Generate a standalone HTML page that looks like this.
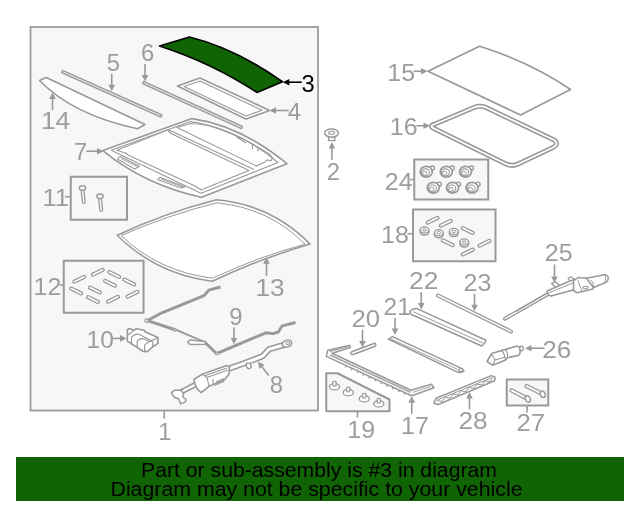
<!DOCTYPE html>
<html><head><meta charset="utf-8"><style>
html,body{margin:0;padding:0;background:#fff;width:640px;height:512px;overflow:hidden}
svg{display:block;font-family:"Liberation Sans",sans-serif;will-change:transform}
</style></head><body>
<svg width="640" height="512" viewBox="0 0 640 512">
<rect x="30.5" y="27" width="287.5" height="383.5" fill="#f7f7f7" stroke="#9c9c9c" stroke-width="1.8"/>
<rect x="16" y="457" width="608" height="44" fill="#116404"/>
<text x="141" y="477" font-size="19.3" textLength="356" lengthAdjust="spacingAndGlyphs" fill="#000">Part or sub-assembly is #3 in diagram</text>
<text x="110.5" y="496.25" font-size="19.3" textLength="412" lengthAdjust="spacingAndGlyphs" fill="#000">Diagram may not be specific to your vehicle</text>
<text x="164.75" y="440.00" text-anchor="middle" font-size="23.8" fill="#9d9d9d">1</text>
<text x="333.45" y="179.50" text-anchor="middle" font-size="23.8" fill="#9d9d9d">2</text>
<text x="294.38" y="120.00" text-anchor="middle" font-size="23.8" fill="#9d9d9d">4</text>
<text x="113.25" y="71.00" text-anchor="middle" font-size="23.8" fill="#9d9d9d">5</text>
<text x="147.50" y="61.00" text-anchor="middle" font-size="23.8" fill="#9d9d9d">6</text>
<text x="80.62" y="160.00" text-anchor="middle" font-size="23.8" fill="#9d9d9d">7</text>
<text x="276.25" y="392.50" text-anchor="middle" font-size="23.8" fill="#9d9d9d">8</text>
<text x="235.90" y="324.80" text-anchor="middle" font-size="23.8" fill="#9d9d9d">9</text>
<text x="100.25" y="347.50" text-anchor="middle" font-size="23.8" textLength="27.24" lengthAdjust="spacingAndGlyphs" fill="#9d9d9d">10</text>
<text x="55.62" y="206.25" text-anchor="middle" font-size="23.8" textLength="26.41" lengthAdjust="spacingAndGlyphs" fill="#9d9d9d">11</text>
<text x="47.50" y="295.00" text-anchor="middle" font-size="23.8" textLength="27.80" lengthAdjust="spacingAndGlyphs" fill="#9d9d9d">12</text>
<text x="270.10" y="295.60" text-anchor="middle" font-size="23.8" textLength="29.13" lengthAdjust="spacingAndGlyphs" fill="#9d9d9d">13</text>
<text x="55.62" y="128.75" text-anchor="middle" font-size="23.8" textLength="29.19" lengthAdjust="spacingAndGlyphs" fill="#9d9d9d">14</text>
<text x="401.25" y="80.50" text-anchor="middle" font-size="23.8" textLength="27.80" lengthAdjust="spacingAndGlyphs" fill="#9d9d9d">15</text>
<text x="403.75" y="135.00" text-anchor="middle" font-size="23.8" textLength="27.80" lengthAdjust="spacingAndGlyphs" fill="#9d9d9d">16</text>
<text x="415.00" y="433.75" text-anchor="middle" font-size="23.8" textLength="27.80" lengthAdjust="spacingAndGlyphs" fill="#9d9d9d">17</text>
<text x="395.00" y="242.50" text-anchor="middle" font-size="23.8" textLength="27.80" lengthAdjust="spacingAndGlyphs" fill="#9d9d9d">18</text>
<text x="361.25" y="438.00" text-anchor="middle" font-size="23.8" textLength="27.80" lengthAdjust="spacingAndGlyphs" fill="#9d9d9d">19</text>
<text x="365.88" y="327.00" text-anchor="middle" font-size="23.8" textLength="28.63" lengthAdjust="spacingAndGlyphs" fill="#9d9d9d">20</text>
<text x="397.25" y="315.00" text-anchor="middle" font-size="23.8" textLength="27.24" lengthAdjust="spacingAndGlyphs" fill="#9d9d9d">21</text>
<text x="423.75" y="288.75" text-anchor="middle" font-size="23.8" textLength="29.46" lengthAdjust="spacingAndGlyphs" fill="#9d9d9d">22</text>
<text x="477.50" y="291.25" text-anchor="middle" font-size="23.8" textLength="27.80" lengthAdjust="spacingAndGlyphs" fill="#9d9d9d">23</text>
<text x="398.75" y="190.00" text-anchor="middle" font-size="23.8" textLength="27.80" lengthAdjust="spacingAndGlyphs" fill="#9d9d9d">24</text>
<text x="558.75" y="261.25" text-anchor="middle" font-size="23.8" textLength="27.80" lengthAdjust="spacingAndGlyphs" fill="#9d9d9d">25</text>
<text x="556.88" y="357.50" text-anchor="middle" font-size="23.8" textLength="29.19" lengthAdjust="spacingAndGlyphs" fill="#9d9d9d">26</text>
<text x="530.88" y="431.25" text-anchor="middle" font-size="23.8" textLength="28.63" lengthAdjust="spacingAndGlyphs" fill="#9d9d9d">27</text>
<text x="473.12" y="428.75" text-anchor="middle" font-size="23.8" textLength="29.19" lengthAdjust="spacingAndGlyphs" fill="#9d9d9d">28</text>
<text x="308.05" y="91.70" text-anchor="middle" font-size="23.8" fill="#000">3</text>
<rect x="70.75" y="176.75" width="56.25" height="43" fill="none" stroke="#999999" stroke-width="2"/>
<rect x="63.75" y="260.75" width="79.75" height="52" fill="none" stroke="#999999" stroke-width="2"/>
<rect x="414.25" y="159.5" width="74" height="40" fill="#f7f7f7" stroke="#999999" stroke-width="2"/>
<rect x="413" y="209.5" width="82.5" height="51.75" fill="#f7f7f7" stroke="#999999" stroke-width="2"/>
<rect x="506.75" y="379.5" width="41.5" height="26" fill="#f7f7f7" stroke="#999999" stroke-width="2"/>
<polygon points="326.25,373.25 337.5,373.25 389.5,399.5 389.5,411.25 326.25,411.25" fill="#f7f7f7" stroke="#999999" stroke-width="2" stroke-linejoin="round"/>
<line x1="164.25" y1="410.5" x2="164.25" y2="418.7" stroke="#999999" stroke-width="1.6"/>
<line x1="65" y1="196.7" x2="71" y2="196.7" stroke="#999999" stroke-width="1.6"/>
<line x1="60" y1="285" x2="63.25" y2="285" stroke="#999999" stroke-width="1.6"/>
<line x1="410" y1="179.6" x2="414.25" y2="179.6" stroke="#999999" stroke-width="1.6"/>
<line x1="407.5" y1="233.75" x2="412.5" y2="233.75" stroke="#999999" stroke-width="1.6"/>
<line x1="357.5" y1="411.25" x2="357.5" y2="417.5" stroke="#999999" stroke-width="1.6"/>
<line x1="527" y1="405.5" x2="527" y2="412.5" stroke="#999999" stroke-width="1.6"/>
<line x1="111.75" y1="73.75" x2="111.75" y2="85.75" stroke="#999999" stroke-width="1.6"/>
<polygon points="111.75,91.25 108.45,84.75 115.05,84.75" fill="#999999"/>
<line x1="145" y1="64" x2="145.00" y2="76.00" stroke="#999999" stroke-width="1.6"/>
<polygon points="145,81.5 141.70,75.00 148.30,75.00" fill="#999999"/>
<line x1="52.5" y1="110" x2="52.50" y2="98.00" stroke="#999999" stroke-width="1.6"/>
<polygon points="52.5,92.5 55.80,99.00 49.20,99.00" fill="#999999"/>
<line x1="86.25" y1="151.25" x2="98.00" y2="151.25" stroke="#999999" stroke-width="1.6"/>
<polygon points="103.5,151.25 97.00,154.55 97.00,147.95" fill="#999999"/>
<line x1="288.75" y1="110.5" x2="275.00" y2="110.50" stroke="#999999" stroke-width="1.6"/>
<polygon points="269.5,110.5 276.00,107.20 276.00,113.80" fill="#999999"/>
<line x1="301.7" y1="82.2" x2="288.30" y2="82.20" stroke="#000" stroke-width="1.6"/>
<polygon points="282.8,82.2 289.30,78.90 289.30,85.50" fill="#000"/>
<line x1="331.9" y1="160" x2="331.90" y2="147.50" stroke="#999999" stroke-width="1.6"/>
<polygon points="331.9,142 335.20,148.50 328.60,148.50" fill="#999999"/>
<line x1="266.5" y1="276" x2="266.50" y2="262.80" stroke="#999999" stroke-width="1.6"/>
<polygon points="266.5,257.3 269.80,263.80 263.20,263.80" fill="#999999"/>
<line x1="112.5" y1="338.4" x2="121.00" y2="338.40" stroke="#999999" stroke-width="1.6"/>
<polygon points="126.5,338.4 120.00,341.70 120.00,335.10" fill="#999999"/>
<line x1="234" y1="327.6" x2="234.00" y2="339.00" stroke="#999999" stroke-width="1.6"/>
<polygon points="234,344.5 230.70,338.00 237.30,338.00" fill="#999999"/>
<line x1="268.8" y1="375.4" x2="261.32" y2="366.00" stroke="#999999" stroke-width="1.6"/>
<polygon points="257.9,361.7 264.53,364.73 259.36,368.84" fill="#999999"/>
<line x1="413.75" y1="71.25" x2="422.00" y2="71.25" stroke="#999999" stroke-width="1.6"/>
<polygon points="427.5,71.25 421.00,74.55 421.00,67.95" fill="#999999"/>
<line x1="416.25" y1="125.75" x2="424.50" y2="125.75" stroke="#999999" stroke-width="1.6"/>
<polygon points="430,125.75 423.50,129.05 423.50,122.45" fill="#999999"/>
<line x1="554.5" y1="264.5" x2="554.50" y2="277.50" stroke="#999999" stroke-width="1.6"/>
<polygon points="554.5,283 551.20,276.50 557.80,276.50" fill="#999999"/>
<line x1="421.25" y1="292" x2="421.25" y2="304.00" stroke="#999999" stroke-width="1.6"/>
<polygon points="421.25,309.5 417.95,303.00 424.55,303.00" fill="#999999"/>
<line x1="474.5" y1="293.75" x2="474.50" y2="305.75" stroke="#999999" stroke-width="1.6"/>
<polygon points="474.5,311.25 471.20,304.75 477.80,304.75" fill="#999999"/>
<line x1="395" y1="318" x2="395.00" y2="329.50" stroke="#999999" stroke-width="1.6"/>
<polygon points="395,335 391.70,328.50 398.30,328.50" fill="#999999"/>
<line x1="362.5" y1="330" x2="362.50" y2="342.00" stroke="#999999" stroke-width="1.6"/>
<polygon points="362.5,347.5 359.20,341.00 365.80,341.00" fill="#999999"/>
<line x1="544.5" y1="348.25" x2="530.50" y2="348.25" stroke="#999999" stroke-width="1.6"/>
<polygon points="525,348.25 531.50,344.95 531.50,351.55" fill="#999999"/>
<line x1="411.75" y1="413.75" x2="411.75" y2="401.75" stroke="#999999" stroke-width="1.6"/>
<polygon points="411.75,396.25 415.05,402.75 408.45,402.75" fill="#999999"/>
<line x1="469.5" y1="409.5" x2="469.50" y2="397.50" stroke="#999999" stroke-width="1.6"/>
<polygon points="469.5,392 472.80,398.50 466.20,398.50" fill="#999999"/>
<path d="M159.5,46 L189.5,37 Q236,48.6 282.5,81.75 L257,92.5 Q212,63 159.5,46 Z" fill="#116404" stroke="#000" stroke-width="1.6" stroke-linejoin="round" />
<path d="M39.5,80.5 L46.25,77.5 L145,124.5 L137.5,128.75 Q73,115 39.5,80.5 Z" fill="#ffffff" stroke="#999999" stroke-width="1.6" stroke-linejoin="round" />
<line x1="61.5" y1="71.2" x2="162" y2="116.2" stroke="#999999" stroke-width="3.8"/>
<line x1="62.7" y1="71.7" x2="160.8" y2="115.7" stroke="#e6e6e6" stroke-width="1.1"/>
<line x1="142.5" y1="82.3" x2="242.5" y2="127.8" stroke="#999999" stroke-width="3.8"/>
<line x1="143.7" y1="82.8" x2="241.3" y2="127.3" stroke="#e6e6e6" stroke-width="1.1"/>
<polygon points="177.5,86 200,78 269.5,110.5 246,119" fill="#ffffff" stroke="#999999" stroke-width="1.6" stroke-linejoin="round"/>
<polygon points="184,86.5 200,81 262,110.3 246,116" fill="#ffffff" stroke="#999999" stroke-width="1.1" stroke-linejoin="round"/>
<path d="M102.8,150.6 L192,118.6 Q240.5,125.6 287,163.7 L201.6,197.3 Q145,185 102.8,150.6 Z" fill="#ffffff" stroke="#999999" stroke-width="1.6" stroke-linejoin="round" />
<path d="M111.25,150.3 L190.5,121.6 Q238,128.8 278,162.5 L201,193.3 Z" fill="none" stroke="#999999" stroke-width="1.1" stroke-linejoin="round" />
<path d="M116.9,150.3 L167.5,130 L171,133.5 L249,170.5 L201,190 L196.2,186.7 L193.4,185.3 L128,155 L126,153 L123.5,152.6 Z" fill="none" stroke="#999999" stroke-width="1.1" stroke-linejoin="round" />
<line x1="169" y1="130" x2="254" y2="169.5" stroke="#999999" stroke-width="1.1"/>
<path d="M177,127.5 L190.5,123.5 Q200,124 210,126 Q240,135 268.75,153.75 L272.5,157.5 L271.25,160.6 L266.5,160 L265,162 L256.5,166 Z" fill="none" stroke="#999999" stroke-width="1.1" stroke-linejoin="round" />
<path d="M252.5,144.5 L252.5,148.75 M258,147 L258,151.5 M236,136.5 L246,143" fill="none" stroke="#999999" stroke-width="1.1"/>
<polygon points="118.3,157.8 120.5,156.5 139.4,166.25 134.7,169 117.8,159.2" fill="none" stroke="#999999" stroke-width="1.1" stroke-linejoin="round"/>
<line x1="121" y1="158.5" x2="137" y2="166.5" stroke="#999999" stroke-width="0.9"/>
<polygon points="157.8,179.7 159.7,177.3 185,186.7 181.25,188.1" fill="none" stroke="#999999" stroke-width="1.1" stroke-linejoin="round"/>
<line x1="161" y1="179" x2="183" y2="187" stroke="#999999" stroke-width="0.9"/>
<line x1="82.5" y1="190" x2="83.75" y2="202" stroke="#999999" stroke-width="4" stroke-linecap="round"/>
<line x1="82.5" y1="190" x2="83.75" y2="202" stroke="#ffffff" stroke-width="1.4" stroke-linecap="round"/>
<ellipse cx="82.5" cy="188" rx="3.2" ry="2.3" fill="#ffffff" stroke="#999999" stroke-width="1.4"/>
<line x1="100" y1="198.25" x2="101.25" y2="210" stroke="#999999" stroke-width="4" stroke-linecap="round"/>
<line x1="100" y1="198.25" x2="101.25" y2="210" stroke="#ffffff" stroke-width="1.4" stroke-linecap="round"/>
<ellipse cx="100" cy="196.25" rx="3.2" ry="2.3" fill="#ffffff" stroke="#999999" stroke-width="1.4"/>
<line x1="74.31" y1="281.66" x2="84.19" y2="276.84" stroke="#999999" stroke-width="4.2" stroke-linecap="round"/>
<line x1="74.31" y1="281.66" x2="84.19" y2="276.84" stroke="#ffffff" stroke-width="1.60" stroke-linecap="round"/>
<line x1="92.81" y1="274.66" x2="102.69" y2="269.84" stroke="#999999" stroke-width="4.2" stroke-linecap="round"/>
<line x1="92.81" y1="274.66" x2="102.69" y2="269.84" stroke="#ffffff" stroke-width="1.60" stroke-linecap="round"/>
<line x1="109.31" y1="272.09" x2="119.19" y2="276.91" stroke="#999999" stroke-width="4.2" stroke-linecap="round"/>
<line x1="109.31" y1="272.09" x2="119.19" y2="276.91" stroke="#ffffff" stroke-width="1.60" stroke-linecap="round"/>
<line x1="124.31" y1="279.59" x2="134.19" y2="284.41" stroke="#999999" stroke-width="4.2" stroke-linecap="round"/>
<line x1="124.31" y1="279.59" x2="134.19" y2="284.41" stroke="#ffffff" stroke-width="1.60" stroke-linecap="round"/>
<line x1="105.06" y1="280.84" x2="114.94" y2="285.66" stroke="#999999" stroke-width="4.2" stroke-linecap="round"/>
<line x1="105.06" y1="280.84" x2="114.94" y2="285.66" stroke="#ffffff" stroke-width="1.60" stroke-linecap="round"/>
<line x1="71.31" y1="288.59" x2="81.19" y2="293.41" stroke="#999999" stroke-width="4.2" stroke-linecap="round"/>
<line x1="71.31" y1="288.59" x2="81.19" y2="293.41" stroke="#ffffff" stroke-width="1.60" stroke-linecap="round"/>
<line x1="90.06" y1="287.59" x2="99.94" y2="292.41" stroke="#999999" stroke-width="4.2" stroke-linecap="round"/>
<line x1="90.06" y1="287.59" x2="99.94" y2="292.41" stroke="#ffffff" stroke-width="1.60" stroke-linecap="round"/>
<line x1="127.56" y1="296.66" x2="137.44" y2="291.84" stroke="#999999" stroke-width="4.2" stroke-linecap="round"/>
<line x1="127.56" y1="296.66" x2="137.44" y2="291.84" stroke="#ffffff" stroke-width="1.60" stroke-linecap="round"/>
<line x1="88.06" y1="297.09" x2="97.94" y2="301.91" stroke="#999999" stroke-width="4.2" stroke-linecap="round"/>
<line x1="88.06" y1="297.09" x2="97.94" y2="301.91" stroke="#ffffff" stroke-width="1.60" stroke-linecap="round"/>
<line x1="108.06" y1="301.66" x2="117.94" y2="296.84" stroke="#999999" stroke-width="4.2" stroke-linecap="round"/>
<line x1="108.06" y1="301.66" x2="117.94" y2="296.84" stroke="#ffffff" stroke-width="1.60" stroke-linecap="round"/>
<path d="M117.2,235.3 Q165.2,212.8 216.6,199.8 Q271.5,204.8 310.1,244.1 Q259.8,258.8 212.4,281.2 Q157,274.5 117.2,235.3 Z" fill="#ffffff" stroke="#999999" stroke-width="1.6" stroke-linejoin="round" />
<path d="M121.2,235.6 Q166.5,215.5 216.6,202.8 Q269.5,208 305,244.2 Q258.5,256.8 212.4,278.2 Q158.5,271.5 121.2,235.6 Z" fill="none" stroke="#999999" stroke-width="1.0" stroke-linejoin="round" />
<polyline points="220.5,287 208.75,290.2 204,295.6 161.9,312.8 147.5,320.6 174.4,329.5 205.6,343 216.6,353.6 265.8,332.8 272.8,333.6 278.3,332 282.2,325.8 295.5,322.5" fill="none" stroke="#999999" stroke-width="2.9" stroke-linejoin="round"/>
<line x1="176" y1="331.5" x2="205" y2="343.5" stroke="#ffffff" stroke-width="1"/>
<circle cx="146.6" cy="320.6" r="1.7" fill="#ffffff" stroke="#999999" stroke-width="1.3"/>
<circle cx="174.4" cy="329.6" r="1.3" fill="#ffffff" stroke="#999999" stroke-width="1.1"/>
<circle cx="216.8" cy="353.4" r="1.3" fill="#ffffff" stroke="#999999" stroke-width="1.1"/>
<polygon points="187.7,342 190,340 205.5,341.5 205,344.2 190,344.5" fill="#ffffff" stroke="#999999" stroke-width="1.4" stroke-linejoin="round"/>
<polygon points="127.4,329.8 128.5,328.8 131.5,329 133,330.8 136.4,328.8 144.2,330.2 145,331.8 157.9,337.5 157.9,343.4 152.4,347 147.3,351.6 143.4,351.5 127.4,341.1" fill="#ffffff" stroke="#999999" stroke-width="1.6" stroke-linejoin="round"/>
<path d="M127.8,335 L132.5,331.5 M131.5,337 Q135,333.5 139,334.3 L151.5,340.8 L157.6,337.7 M131.5,337 L131.5,344.2 M137.2,341 Q140,338.3 144,338.8 L150,342 M137.2,341 L137.2,347.5 M144.6,345.2 Q148,341.5 151.5,341 Q153.5,342 152.5,345.8 M144.6,345.2 L144.6,351.2" fill="none" stroke="#999999" stroke-width="1.2"/>
<polyline points="224,370.5 241,364.3 255.5,359 262.5,356.2 269,349.3 285.5,344.5" fill="none" stroke="#999999" stroke-width="6.2" stroke-linejoin="round"/>
<polyline points="224,370.5 241,364.3 255.5,359 262.5,356.2 269,349.3 285.5,344.5" fill="none" stroke="#ffffff" stroke-width="3" stroke-linejoin="round"/>
<ellipse cx="287" cy="343.7" rx="4.8" ry="3.3" transform="rotate(-20 287 343.7)" fill="#ffffff" stroke="#999999" stroke-width="1.6"/>
<ellipse cx="287.8" cy="343.4" rx="2" ry="1.2" transform="rotate(-20 287.8 343.4)" fill="none" stroke="#999999" stroke-width="1"/>
<ellipse cx="248.6" cy="365.8" rx="2.2" ry="3" transform="rotate(-30 248.6 365.8)" fill="#ffffff" stroke="#999999" stroke-width="1.4"/>
<line x1="180" y1="392.5" x2="196" y2="384.3" stroke="#999999" stroke-width="5.6"/>
<line x1="180" y1="392.5" x2="196" y2="384.3" stroke="#ffffff" stroke-width="2.4"/>
<polygon points="171.4,392.6 174.8,390.2 180.7,390.2 183.6,393.6 182.7,397 186.1,399.5 185.1,401.9 180.7,403.9 178.8,399 173.9,397" fill="#ffffff" stroke="#999999" stroke-width="1.5" stroke-linejoin="round"/>
<polygon points="193.9,379.4 202.2,374.2 226.7,365.6 229.5,367 229,374 224.7,379.4 209.1,386.3 201.2,392.6 197.3,389.2 195,384" fill="#ffffff" stroke="#999999" stroke-width="1.6" stroke-linejoin="round"/>
<path d="M202.2,374.2 L207,377.5 L209.1,386.3 M207,377.5 L228,370 M204,376 L227,368 M213,379 L213,385 M214,385.5 L223.5,381.5 L224,379 M216,382 L224,378.5" fill="none" stroke="#999999" stroke-width="1.1"/>
<rect x="328.6" y="136" width="6.2" height="4.5" fill="#ffffff" stroke="#999999" stroke-width="1.3"/>
<ellipse cx="331.6" cy="133.1" rx="6.8" ry="4.1" fill="#ffffff" stroke="#999999" stroke-width="1.5"/>
<ellipse cx="331.6" cy="132.8" rx="3" ry="1.5" fill="none" stroke="#999999" stroke-width="1.1"/>
<path d="M428,71.25 L479.5,46.25 Q530,62 570.5,89.5 L520.5,115 Q478,95 428,71.25 Z" fill="none" stroke="#999999" stroke-width="1.7" stroke-linejoin="round" />
<path d="M435,124 L474,107.5 Q480,105 486,107.5 L553,139.5 Q560,143 553,147.5 L518,164 Q512,167 505,163.5 L435,129 Q428,126 435,124 Z" fill="none" stroke="#999999" stroke-width="5" stroke-linejoin="round" />
<path d="M435,124 L474,107.5 Q480,105 486,107.5 L553,139.5 Q560,143 553,147.5 L518,164 Q512,167 505,163.5 L435,129 Q428,126 435,124 Z" fill="none" stroke="#ffffff" stroke-width="1.8" stroke-linejoin="round" />
<circle cx="432.25" cy="168.1" r="2.1" fill="#ffffff" stroke="#999999" stroke-width="1.4"/>
<ellipse cx="426.25" cy="171.7" rx="6" ry="5.4" fill="#ffffff" stroke="#999999" stroke-width="1.7"/>
<ellipse cx="425.45" cy="172.5" rx="4" ry="3.6" fill="none" stroke="#999999" stroke-width="1.1"/>
<ellipse cx="424.65" cy="173.29999999999998" rx="2.2" ry="2" fill="none" stroke="#999999" stroke-width="1"/>
<circle cx="452.25" cy="168.1" r="2.1" fill="#ffffff" stroke="#999999" stroke-width="1.4"/>
<ellipse cx="446.25" cy="171.7" rx="6" ry="5.4" fill="#ffffff" stroke="#999999" stroke-width="1.7"/>
<ellipse cx="445.45" cy="172.5" rx="4" ry="3.6" fill="none" stroke="#999999" stroke-width="1.1"/>
<ellipse cx="444.65" cy="173.29999999999998" rx="2.2" ry="2" fill="none" stroke="#999999" stroke-width="1"/>
<circle cx="471.5" cy="168.1" r="2.1" fill="#ffffff" stroke="#999999" stroke-width="1.4"/>
<ellipse cx="465.5" cy="171.7" rx="6" ry="5.4" fill="#ffffff" stroke="#999999" stroke-width="1.7"/>
<ellipse cx="464.7" cy="172.5" rx="4" ry="3.6" fill="none" stroke="#999999" stroke-width="1.1"/>
<ellipse cx="463.9" cy="173.29999999999998" rx="2.2" ry="2" fill="none" stroke="#999999" stroke-width="1"/>
<circle cx="439.25" cy="184.20000000000002" r="2.1" fill="#ffffff" stroke="#999999" stroke-width="1.4"/>
<ellipse cx="433.25" cy="187.8" rx="6" ry="5.4" fill="#ffffff" stroke="#999999" stroke-width="1.7"/>
<ellipse cx="432.45" cy="188.60000000000002" rx="4" ry="3.6" fill="none" stroke="#999999" stroke-width="1.1"/>
<ellipse cx="431.65" cy="189.4" rx="2.2" ry="2" fill="none" stroke="#999999" stroke-width="1"/>
<circle cx="458.5" cy="184.20000000000002" r="2.1" fill="#ffffff" stroke="#999999" stroke-width="1.4"/>
<ellipse cx="452.5" cy="187.8" rx="6" ry="5.4" fill="#ffffff" stroke="#999999" stroke-width="1.7"/>
<ellipse cx="451.7" cy="188.60000000000002" rx="4" ry="3.6" fill="none" stroke="#999999" stroke-width="1.1"/>
<ellipse cx="450.9" cy="189.4" rx="2.2" ry="2" fill="none" stroke="#999999" stroke-width="1"/>
<circle cx="478" cy="184.20000000000002" r="2.1" fill="#ffffff" stroke="#999999" stroke-width="1.4"/>
<ellipse cx="472" cy="187.8" rx="6" ry="5.4" fill="#ffffff" stroke="#999999" stroke-width="1.7"/>
<ellipse cx="471.2" cy="188.60000000000002" rx="4" ry="3.6" fill="none" stroke="#999999" stroke-width="1.1"/>
<ellipse cx="470.4" cy="189.4" rx="2.2" ry="2" fill="none" stroke="#999999" stroke-width="1"/>
<line x1="427.56" y1="222.66" x2="437.44" y2="217.84" stroke="#999999" stroke-width="4.2" stroke-linecap="round"/>
<line x1="427.56" y1="222.66" x2="437.44" y2="217.84" stroke="#ffffff" stroke-width="1.60" stroke-linecap="round"/>
<line x1="440.81" y1="225.66" x2="450.69" y2="220.84" stroke="#999999" stroke-width="4.2" stroke-linecap="round"/>
<line x1="440.81" y1="225.66" x2="450.69" y2="220.84" stroke="#ffffff" stroke-width="1.60" stroke-linecap="round"/>
<line x1="462.81" y1="228.09" x2="472.69" y2="232.91" stroke="#999999" stroke-width="4.2" stroke-linecap="round"/>
<line x1="462.81" y1="228.09" x2="472.69" y2="232.91" stroke="#ffffff" stroke-width="1.60" stroke-linecap="round"/>
<line x1="442.81" y1="240.34" x2="452.69" y2="245.16" stroke="#999999" stroke-width="4.2" stroke-linecap="round"/>
<line x1="442.81" y1="240.34" x2="452.69" y2="245.16" stroke="#ffffff" stroke-width="1.60" stroke-linecap="round"/>
<line x1="479.56" y1="245.66" x2="489.44" y2="240.84" stroke="#999999" stroke-width="4.2" stroke-linecap="round"/>
<line x1="479.56" y1="245.66" x2="489.44" y2="240.84" stroke="#ffffff" stroke-width="1.60" stroke-linecap="round"/>
<line x1="462.81" y1="254.41" x2="472.69" y2="249.59" stroke="#999999" stroke-width="4.2" stroke-linecap="round"/>
<line x1="462.81" y1="254.41" x2="472.69" y2="249.59" stroke="#ffffff" stroke-width="1.60" stroke-linecap="round"/>
<ellipse cx="424.5" cy="231.8" rx="4.4" ry="3.2" fill="#ffffff" stroke="#999999" stroke-width="1.5"/>
<ellipse cx="424.5" cy="229.9" rx="4.4" ry="3" fill="#ffffff" stroke="#999999" stroke-width="1.4"/>
<ellipse cx="424.5" cy="229.9" rx="2" ry="1.2" fill="none" stroke="#999999" stroke-width="1"/>
<ellipse cx="438.75" cy="234.55" rx="4.4" ry="3.2" fill="#ffffff" stroke="#999999" stroke-width="1.5"/>
<ellipse cx="438.75" cy="232.65" rx="4.4" ry="3" fill="#ffffff" stroke="#999999" stroke-width="1.4"/>
<ellipse cx="438.75" cy="232.65" rx="2" ry="1.2" fill="none" stroke="#999999" stroke-width="1"/>
<ellipse cx="453.75" cy="233.3" rx="4.4" ry="3.2" fill="#ffffff" stroke="#999999" stroke-width="1.5"/>
<ellipse cx="453.75" cy="231.4" rx="4.4" ry="3" fill="#ffffff" stroke="#999999" stroke-width="1.4"/>
<ellipse cx="453.75" cy="231.4" rx="2" ry="1.2" fill="none" stroke="#999999" stroke-width="1"/>
<ellipse cx="464.25" cy="243.8" rx="4.4" ry="3.2" fill="#ffffff" stroke="#999999" stroke-width="1.5"/>
<ellipse cx="464.25" cy="241.9" rx="4.4" ry="3" fill="#ffffff" stroke="#999999" stroke-width="1.4"/>
<ellipse cx="464.25" cy="241.9" rx="2" ry="1.2" fill="none" stroke="#999999" stroke-width="1"/>
<line x1="505" y1="318.75" x2="549" y2="293.5" stroke="#999999" stroke-width="4" stroke-linecap="round"/>
<line x1="505" y1="318.75" x2="549" y2="293.5" stroke="#ffffff" stroke-width="1.4" stroke-linecap="round"/>
<line x1="516" y1="311.5" x2="549" y2="292" stroke="#999999" stroke-width="1.2"/>
<polygon points="547,291 574.5,279 577.5,283 575,289.5 551,296 548.5,295" fill="#ffffff" stroke="#999999" stroke-width="1.4" stroke-linejoin="round"/>
<line x1="549" y1="292.8" x2="575" y2="282" stroke="#999999" stroke-width="1"/>
<polygon points="573.5,281 578,277.5 587,278.3 593,286 593,289 577,292.8 573.5,290.5" fill="#ffffff" stroke="#999999" stroke-width="1.5" stroke-linejoin="round"/>
<path d="M586.5,278.3 L605.5,274.6 Q609.8,276.5 607.5,281 Q606.5,282.3 604.5,283 L593.5,287.5 Z" fill="#ffffff" stroke="#999999" stroke-width="1.5" stroke-linejoin="round" />
<path d="M591,280 Q594,283 593.5,287.5 M604.5,275.3 Q607,278 604.5,283" fill="none" stroke="#999999" stroke-width="1"/>
<ellipse cx="585.6" cy="287.5" rx="2.5" ry="1.3" fill="none" stroke="#999999" stroke-width="1.1"/>
<line x1="578" y1="280.5" x2="582" y2="291.5" stroke="#999999" stroke-width="1"/>
<polygon points="551.5,283.3 556,282 559.5,285.3 555,287" fill="#ffffff" stroke="#999999" stroke-width="1.3" stroke-linejoin="round"/>
<polygon points="568,278 571.5,276.8 574,279.5 570,280.8" fill="#ffffff" stroke="#999999" stroke-width="1.2" stroke-linejoin="round"/>
<line x1="438" y1="295.5" x2="511" y2="331.5" stroke="#999999" stroke-width="4" stroke-linecap="round"/>
<line x1="438" y1="295.5" x2="511" y2="331.5" stroke="#ffffff" stroke-width="1.4" stroke-linecap="round"/>
<polygon points="409.8,311.3 412.5,309.3 416.5,308.4 486,340.3 484.5,343.5 481.7,346 411,314.2" fill="#ffffff" stroke="#999999" stroke-width="1.5" stroke-linejoin="round"/>
<line x1="413" y1="311.6" x2="483.5" y2="343.3" stroke="#999999" stroke-width="1"/>
<polygon points="388.3,339.3 392.4,336.6 462,368.6 464,371 458,372.4 389.9,339.8" fill="#ffffff" stroke="#999999" stroke-width="1.5" stroke-linejoin="round"/>
<line x1="391" y1="339" x2="460" y2="370.5" stroke="#999999" stroke-width="0.9"/>
<ellipse cx="461" cy="370.5" rx="2" ry="2.2" fill="none" stroke="#999999" stroke-width="1.1"/>
<path d="M374.6,343.2 L352.5,351.5 Q350,352.5 351,354 Q352,355 354,354.3 L375.2,346.2 Q376.5,345 375.5,343.5 Z" fill="#ffffff" stroke="#999999" stroke-width="1.5" stroke-linejoin="round" />
<polygon points="326.3,356.4 327.7,350.3 349.8,345.3 350.5,347.6 332,353.3 411,390.3 431.5,384.3 434,387.8 412.5,395.5 410.9,395.5" fill="#ffffff" stroke="#999999" stroke-width="1.5" stroke-linejoin="round"/>
<line x1="330" y1="355" x2="410.5" y2="392.3" stroke="#a6a6a6" stroke-width="1.7"/>
<line x1="329.5" y1="351.5" x2="349" y2="346.6" stroke="#aaaaaa" stroke-width="1.4"/>
<line x1="413" y1="392.3" x2="431" y2="386.5" stroke="#aaaaaa" stroke-width="1.2"/>
<line x1="345" y1="366.4" x2="405" y2="394.3" stroke="#999999" stroke-width="1.5" stroke-dasharray="1.5,5"/>
<ellipse cx="334.5" cy="386.7" rx="5.1" ry="3.2" fill="#ffffff" stroke="#999999" stroke-width="1.3"/>
<rect x="333.0" y="381.5" width="3" height="4.5" fill="#ffffff" stroke="#999999" stroke-width="1.1"/>
<ellipse cx="348.25" cy="392.45" rx="5.1" ry="3.2" fill="#ffffff" stroke="#999999" stroke-width="1.3"/>
<rect x="346.75" y="387.25" width="3" height="4.5" fill="#ffffff" stroke="#999999" stroke-width="1.1"/>
<ellipse cx="364.25" cy="398.7" rx="5.1" ry="3.2" fill="#ffffff" stroke="#999999" stroke-width="1.3"/>
<rect x="362.75" y="393.5" width="3" height="4.5" fill="#ffffff" stroke="#999999" stroke-width="1.1"/>
<ellipse cx="378.75" cy="403.7" rx="5.1" ry="3.2" fill="#ffffff" stroke="#999999" stroke-width="1.3"/>
<rect x="377.25" y="398.5" width="3" height="4.5" fill="#ffffff" stroke="#999999" stroke-width="1.1"/>
<polygon points="433.8,403.2 436,398.3 491.25,375.6 495.1,377.3 494.6,380.8 438.2,404.5" fill="#ffffff" stroke="#999999" stroke-width="1.5" stroke-linejoin="round"/>
<line x1="436.5" y1="400.3" x2="492" y2="377.6" stroke="#999999" stroke-width="1"/>
<polyline points="437.00,400.60 442.20,401.53 444.93,397.34 450.20,398.19 452.86,394.09 458.20,394.84 460.79,390.83 466.20,391.50 468.71,387.57 474.20,388.16 476.64,384.31 482.20,384.81 484.57,381.06 490.20,381.47 492.50,377.80" fill="none" stroke="#999999" stroke-width="1"/>
<path d="M487,361.5 L491,354.5 Q492.5,352.5 495,352.5 L501.5,350.5 Q503,349.5 505,349.5 L516.5,346.3 Q519.5,346 520.2,349 L520,353.5 Q519.5,355.3 517.5,355.6 L507.5,357.8 L505.5,360 L492.6,365.2 Z" fill="#ffffff" stroke="#999999" stroke-width="1.6" stroke-linejoin="round" />
<path d="M491,354.5 Q494,356 495,360 L492.6,365.2 M501.5,350.5 Q504.5,353 505.5,360 M505,349.5 Q508,352 507.5,357.8 M495,360 L505.5,357" fill="none" stroke="#999999" stroke-width="1.1"/>
<ellipse cx="521.5" cy="348.5" rx="1.8" ry="2.3" fill="#ffffff" stroke="#999999" stroke-width="1.3"/>
<line x1="511.6" y1="390.4" x2="526.5" y2="398.3" stroke="#999999" stroke-width="4.4" stroke-linecap="round"/>
<line x1="511.6" y1="390.4" x2="526.5" y2="398.3" stroke="#ffffff" stroke-width="1.8" stroke-linecap="round"/>
<ellipse cx="527.8" cy="399.0" rx="2.4" ry="3.3" transform="rotate(-25 527.8 399.0)" fill="#ffffff" stroke="#999999" stroke-width="1.5"/>
<line x1="526.5" y1="386" x2="541.5" y2="393.6" stroke="#999999" stroke-width="4.4" stroke-linecap="round"/>
<line x1="526.5" y1="386" x2="541.5" y2="393.6" stroke="#ffffff" stroke-width="1.8" stroke-linecap="round"/>
<ellipse cx="542.8" cy="394.3" rx="2.4" ry="3.3" transform="rotate(-25 542.8 394.3)" fill="#ffffff" stroke="#999999" stroke-width="1.5"/>
</svg>
</body></html>
